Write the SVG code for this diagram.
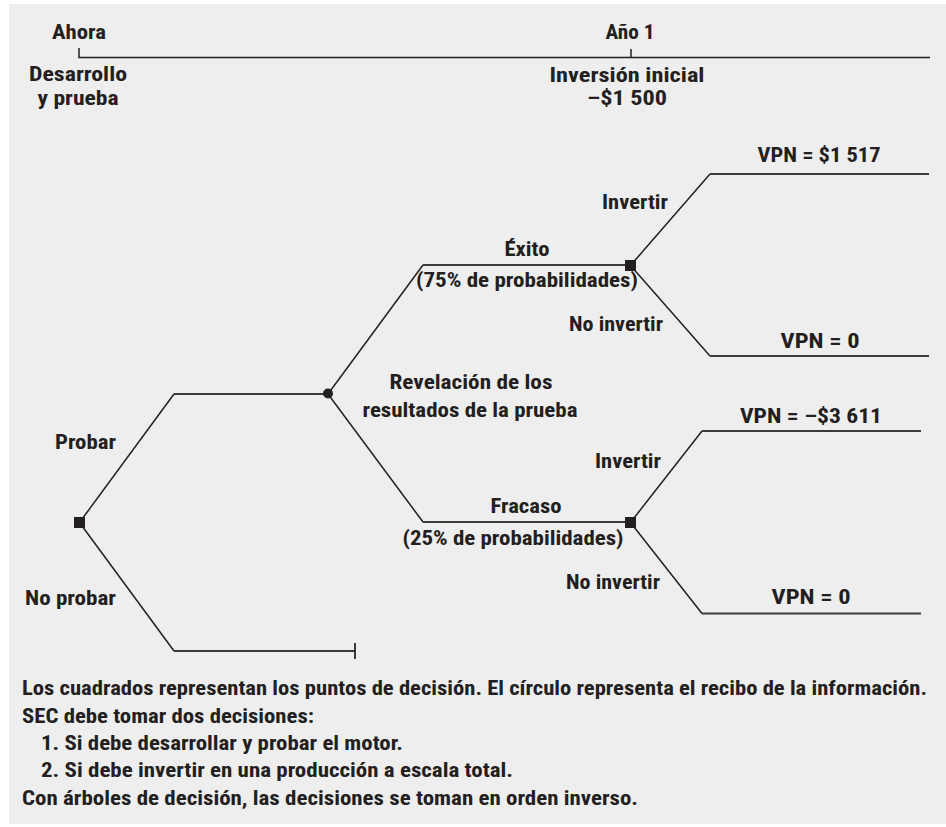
<svg xmlns="http://www.w3.org/2000/svg" width="946" height="827" viewBox="0 0 946 827">
<style>
text{font-family:"Liberation Sans Narrow","Roboto Condensed","DejaVu Sans Condensed","Liberation Sans",sans-serif;font-weight:bold;font-size:21px;fill:#231f20}
.m{text-anchor:middle}
.e{text-anchor:end}
.ln{fill:none;stroke:#231f20;stroke-width:1.5}
.hl{fill:none;stroke:#3a3a3a;stroke-width:2}
.sq{fill:#231f20}
</style>
<rect x="9" y="4" width="937" height="820" fill="#eeeeee"/>
<g id="timeline">
<path class="ln" d="M79 48V57.5H930M631 49V57.5"/>
<text class="m" x="79" y="39" textLength="54" lengthAdjust="spacingAndGlyphs">Ahora</text>
<text class="m" x="78" y="81" textLength="98" lengthAdjust="spacingAndGlyphs">Desarrollo</text>
<text class="m" x="78" y="105" textLength="81" lengthAdjust="spacingAndGlyphs">y prueba</text>
<text class="m" x="630" y="39" textLength="49" lengthAdjust="spacingAndGlyphs">Año 1</text>
<text class="m" x="627" y="82" textLength="155" lengthAdjust="spacingAndGlyphs">Inversión inicial</text>
<text class="m" x="627" y="105" textLength="80" lengthAdjust="spacingAndGlyphs">–$1 500</text>
</g>
<g id="connectors">
<path class="ln" d="M79.5 522.5L174 394"/>
<path class="hl" d="M174 394H328"/>
<path class="ln" d="M79.5 522.5L174 651"/>
<path class="hl" d="M174 651H355M355 643V659"/>
<path class="ln" d="M328 394L423 265"/>
<path class="hl" d="M423 265H630"/>
<path class="ln" d="M328 394L423 522"/>
<path class="hl" d="M423 522H630"/>
<path class="ln" d="M630.5 265.5L710 174"/>
<path class="hl" d="M710 174H929"/>
<path class="ln" d="M630.5 265.5L710 356"/>
<path class="hl" d="M710 356H929"/>
<path class="ln" d="M630.5 522.5L702 431"/>
<path class="hl" d="M702 431H921"/>
<path class="ln" d="M630.5 522.5L702 613.5"/>
<path class="hl" d="M702 613.5H921"/>
</g>
<g id="root">
<rect class="sq" x="74" y="517" width="11" height="11"/>
<text class="e" x="116" y="449" textLength="61" lengthAdjust="spacingAndGlyphs">Probar</text>
<text class="e" x="116" y="605" textLength="91" lengthAdjust="spacingAndGlyphs">No probar</text>
</g>
<g id="chance">
<circle class="sq" cx="328" cy="393.5" r="5"/>
<text class="m" x="471" y="389" textLength="163" lengthAdjust="spacingAndGlyphs">Revelación de los</text>
<text class="m" x="470" y="417" textLength="215" lengthAdjust="spacingAndGlyphs">resultados de la prueba</text>
</g>
<g id="success">
<rect class="sq" x="625" y="260" width="11" height="11"/>
<text class="m" x="527" y="256" textLength="45" lengthAdjust="spacingAndGlyphs">Éxito</text>
<text class="m" x="527" y="287" textLength="222" lengthAdjust="spacingAndGlyphs">(75% de probabilidades)</text>
<text class="e" x="668" y="209" textLength="66" lengthAdjust="spacingAndGlyphs">Invertir</text>
<text class="e" x="663" y="331" textLength="94" lengthAdjust="spacingAndGlyphs">No invertir</text>
</g>
<g id="failure">
<rect class="sq" x="625" y="517" width="11" height="11"/>
<text class="m" x="526" y="513" textLength="71" lengthAdjust="spacingAndGlyphs">Fracaso</text>
<text class="m" x="513" y="545" textLength="221" lengthAdjust="spacingAndGlyphs">(25% de probabilidades)</text>
<text class="e" x="661" y="468" textLength="66" lengthAdjust="spacingAndGlyphs">Invertir</text>
<text class="e" x="660" y="589" textLength="94" lengthAdjust="spacingAndGlyphs">No invertir</text>
</g>
<g id="outcomes">
<text class="m" x="819" y="162" textLength="123" lengthAdjust="spacingAndGlyphs">VPN = $1 517</text>
<text class="m" x="820" y="348" textLength="79" lengthAdjust="spacingAndGlyphs">VPN = 0</text>
<text class="m" x="811" y="423" textLength="142" lengthAdjust="spacingAndGlyphs">VPN =  –$3 611</text>
<text class="m" x="811" y="604" textLength="79" lengthAdjust="spacingAndGlyphs">VPN = 0</text>
</g>
<g id="notes">
<text x="22" y="695" textLength="905" lengthAdjust="spacingAndGlyphs">Los cuadrados representan los puntos de decisión. El círculo representa el recibo de la información.</text>
<text x="22" y="723" textLength="292" lengthAdjust="spacingAndGlyphs">SEC debe tomar dos decisiones:</text>
<text x="41" y="750" textLength="362" lengthAdjust="spacingAndGlyphs">1. Si debe desarrollar y probar el motor.</text>
<text x="41" y="777" textLength="472" lengthAdjust="spacingAndGlyphs">2. Si debe invertir en una producción a escala total.</text>
<text x="22" y="805" textLength="616" lengthAdjust="spacingAndGlyphs">Con árboles de decisión, las decisiones se toman en orden inverso.</text>
</g>
</svg>
